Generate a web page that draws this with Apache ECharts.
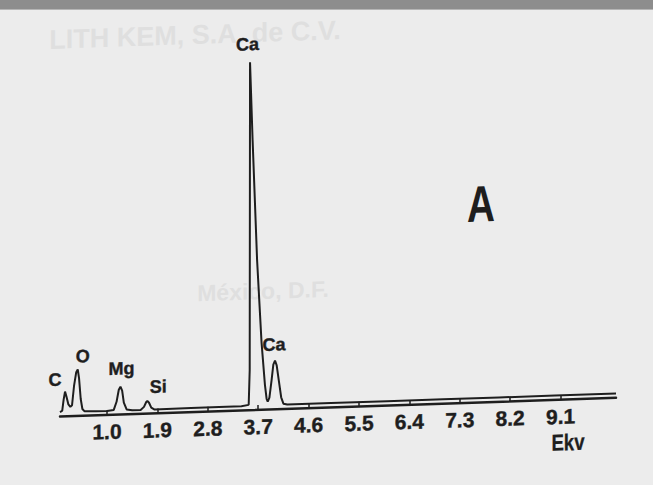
<!DOCTYPE html>
<html>
<head>
<meta charset="utf-8">
<script src="https://cdn.jsdelivr.net/npm/echarts@6/dist/echarts.min.js"></script>
<style>
  html, body { margin: 0; padding: 0; width: 653px; height: 485px; overflow: hidden; background: #ececec; }
  #band { position: absolute; left: 0; top: 0; width: 653px; height: 9px; background: #8d8d8d; border-bottom: 1px solid #b5b5b5; z-index: 5; }
  #chart { position: absolute; left: 0; top: 0; width: 653px; height: 485px;
           transform: skewY(-1.92deg); transform-origin: 60px 0px; }
</style>
</head>
<body>
<div id="band"></div>
<div id="chart"></div>
<script>
// ---- data (energy in keV, intensity in counts) ----
const energy = [0.16, 0.20, 0.225, 0.25, 0.275, 0.31, 0.345, 0.375, 0.41, 0.45, 0.477, 0.50, 0.53, 0.56, 0.60,
                0.80, 1.00, 1.12, 1.17, 1.21, 1.24, 1.27, 1.30, 1.35, 1.45,
                1.60, 1.66, 1.70, 1.72, 1.75, 1.79, 1.85,
                2.50, 3.00, 3.40, 3.53, 3.548, 3.554, 3.60, 3.68, 3.76, 3.82, 3.85, 3.87,
                3.90, 3.94, 3.97, 4.00, 4.03, 4.07, 4.11, 4.15, 4.22,
                5.0, 6.0, 7.0, 8.0, 9.0, 10.09];
const counts = [45, 60, 170, 250, 200, 120, 95, 110, 300, 440, 467, 380, 170, 70, 45,
                42, 42, 50, 130, 250, 280, 240, 120, 50, 40,
                40, 70, 118, 128, 110, 60, 40,
                42, 43, 44, 55, 400, 3480, 2700, 1500, 670, 250, 110, 80,
                120, 300, 450, 490, 440, 280, 120, 55, 45,
                45, 45, 45, 45, 45, 45];

const tickValues = [1.0, 1.9, 2.8, 3.7, 4.6, 5.5, 6.4, 7.3, 8.2, 9.1];
const axisName = 'Ekv';

const peakNames = ['C', 'O', 'Mg', 'Si', 'Ca', 'Ca'];
const peakEnergies = [0.25, 0.477, 1.24, 1.72, 3.554, 4.00];
const peakCounts = [250, 467, 280, 128, 3480, 490];

const panelLetter = 'A';

// ---- styling / layout ----
const INK = '#1e1e1e';
const FONT = 'Liberation Sans, Arial, sans-serif';
const labelOffsets = [[-10, -12], [5, -13], [1, -18], [11, -14], [-2.5, -18], [-1, -16]];
const TAN = Math.tan(-1.92 * Math.PI / 180); // chart is skewed like the scanned page
const unskewY = (x, y) => y - TAN * (x - 60);

const txt = (text, size, fill, extra) => Object.assign({
  text: text, fontFamily: FONT, fontWeight: 'bold', fontSize: size,
  fill: fill, align: 'center', verticalAlign: 'middle'
}, extra || {});

const chart = echarts.init(document.getElementById('chart'), null, { renderer: 'svg' });

const lineData = energy.map((e, i) => [e, counts[i]]);

const staticGraphics = [
  { type: 'text', x: 195, y: unskewY(195, 35), z: -10, silent: true,
    style: txt('LITH KEM, S.A. de C.V.', 27, '#dfdfdf') },
  { type: 'text', x: 263, y: unskewY(263, 291), z: -10, silent: true,
    style: txt('México, D.F.', 23, '#dfdfdf') },
  { type: 'text', x: 481, y: unskewY(481, 204), scaleX: 0.76,
    style: txt(panelLetter, 51, INK) },
  { type: 'text', x: 568, y: unskewY(568, 442), scaleX: 0.81,
    style: txt(axisName, 23, INK, { stroke: INK, lineWidth: 0.3 }) }
];

chart.setOption({
  animation: false,
  backgroundColor: 'transparent',
  grid: { left: 60, right: 37, top: 16.7, bottom: 68.3, containLabel: false },
  xAxis: {
    type: 'value',
    min: 0.16,
    max: 10.09,
    axisLine: { show: true, lineStyle: { color: INK, width: 2.5 } },
    axisTick: { show: true, inside: true, length: 5, customValues: tickValues,
                lineStyle: { color: INK, width: 1.5 } },
    axisLabel: { show: true, customValues: tickValues, formatter: v => v.toFixed(1),
                 fontFamily: FONT, fontWeight: 'bold',
                 fontSize: 21, color: INK, margin: 6,
                 textBorderColor: INK, textBorderWidth: 0.4 },
    splitLine: { show: false }
  },
  yAxis: { type: 'value', min: 0, max: 4000, show: false },
  series: [
    {
      type: 'line',
      data: lineData,
      symbol: 'none',
      smooth: false,
      lineStyle: { color: INK, width: 2 },
      z: 3
    }
  ],
  graphic: staticGraphics
});

// peak labels positioned through the chart's own scales
const peakGraphics = peakNames.map((n, i) => {
  const p = chart.convertToPixel({ gridIndex: 0 }, [peakEnergies[i], peakCounts[i]]);
  return {
    type: 'text',
    x: p[0] + labelOffsets[i][0],
    y: p[1] + labelOffsets[i][1],
    z: 10,
    style: txt(n, 18, INK, { stroke: INK, lineWidth: 0.4 })
  };
});
chart.setOption({ graphic: staticGraphics.concat(peakGraphics) });
</script>
</body>
</html>
